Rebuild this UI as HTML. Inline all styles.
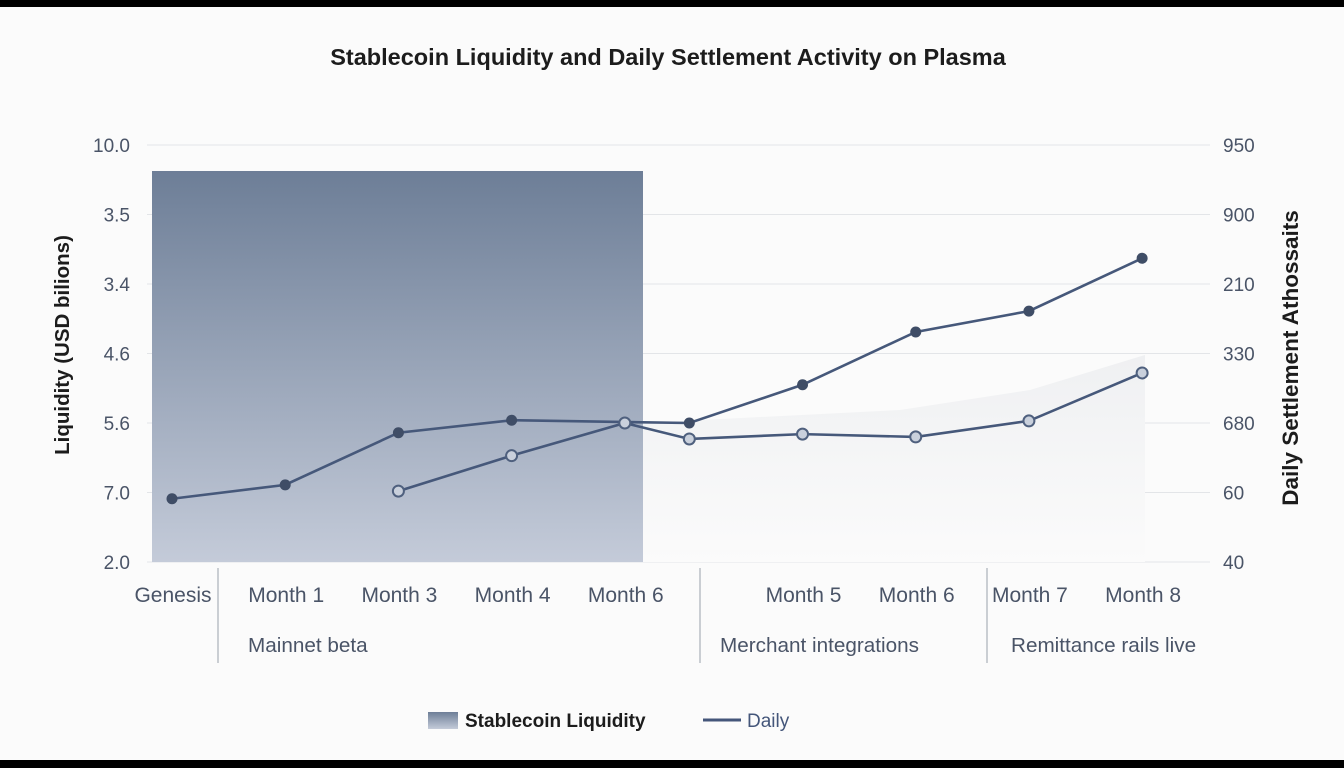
<!DOCTYPE html>
<html><head><meta charset="utf-8"><style>
body{margin:0;width:1344px;height:768px;overflow:hidden;background:#fbfbfb;font-family:"Liberation Sans",sans-serif;}
</style></head><body>
<svg width="1344" height="768" style="display:block">
<defs>
<linearGradient id="gShade" x1="0" y1="0" x2="0" y2="1"><stop offset="0" stop-color="#6d7e97"/><stop offset="1" stop-color="#c4cbd9"/></linearGradient>
<linearGradient id="gFaint" x1="0" y1="0" x2="0" y2="1"><stop offset="0" stop-color="#eff0f2"/><stop offset="1" stop-color="#fbfbfb"/></linearGradient>
</defs>
<rect x="0" y="0" width="1344" height="7" fill="#000"/>
<rect x="0" y="760" width="1344" height="8" fill="#000"/>
<text x="668" y="65" text-anchor="middle" font-size="23.5" font-weight="bold" fill="#1c1c1c">Stablecoin Liquidity and Daily Settlement Activity on Plasma</text>
<g id="grid"></g>
<polygon points="643,562 643,423 900,410 1030,390 1145,355 1145,562" fill="url(#gFaint)"/>
<rect x="152" y="171" width="491" height="391" fill="url(#gShade)"/>
<g id="marks"></g>
<text transform="translate(69,345) rotate(-90)" text-anchor="middle" font-size="20.5" font-weight="bold" fill="#1c1c1c">Liquidity (USD bilions)</text>
<text transform="translate(1298,358) rotate(-90)" text-anchor="middle" font-size="22.5" font-weight="bold" fill="#1c1c1c">Daily Settlement Athossaits</text>
<line x1="218" y1="568" x2="218" y2="663" stroke="#9aa1ab"/>
<line x1="700" y1="568" x2="700" y2="663" stroke="#9aa1ab"/>
<line x1="987" y1="568" x2="987" y2="663" stroke="#9aa1ab"/>
<text x="248" y="652" font-size="20.7" fill="#4a5467">Mainnet beta</text>
<text x="720" y="652" font-size="20.7" fill="#4a5467">Merchant integrations</text>
<text x="1011" y="652" font-size="20.7" fill="#4a5467">Remittance rails live</text>
<rect x="428" y="712" width="30" height="17" fill="url(#gShade)"/>
<text x="465" y="727" font-size="19" font-weight="bold" fill="#1c1c1c">Stablecoin Liquidity</text>
<line x1="703" y1="720" x2="741" y2="720" stroke="#44567a" stroke-width="3"/>
<text x="747" y="727" font-size="19" fill="#44567a">Daily</text>
</svg>
<script>
const categories=["Genesis","Month 1","Month 3","Month 4","Month 6","","Month 5","Month 6","Month 7","Month 8"];
const xIndex=[0,1,2,3,4,4.57,5.57,6.57,7.57,8.57];
const leftTicks=["10.0","3.5","3.4","4.6","5.6","7.0","2.0"];
const rightTicks=["950","900","210","330","680","60","40"];
const darkSeries=[0.91,1.11,1.86,2.04,null,2.0,2.55,3.31,3.61,4.37];
const lightSeries=[null,null,1.02,1.53,2.0,1.77,1.84,1.8,2.03,2.72];
const NS="http://www.w3.org/2000/svg";
const xS=i=>172+i*113.2;
const yS=v=>562-v*69.5;
function mk(t,a,p){const e=document.createElementNS(NS,t);for(const k in a)e.setAttribute(k,a[k]);p.appendChild(e);return e;}
const grid=document.getElementById('grid'),marks=document.getElementById('marks');
leftTicks.forEach((t,i)=>{
  const y=yS(6-i);
  const l=mk('line',{x1:147,x2:1210,y1:y,y2:y,stroke:'#e3e5e8'},grid);
  
  
  const a=mk('text',{x:130,y:y+7,'text-anchor':'end','font-size':19,fill:'#4a5467'},grid);a.textContent=t;
  
  
  const b=mk('text',{x:1223,y:y+7,'font-size':19,fill:'#4a5467'},grid);b.textContent=rightTicks[i];
  
  
});
categories.forEach((c,i)=>{if(!c)return;
  const t=mk('text',{x:xS(xIndex[i])+1,y:602,'text-anchor':'middle','font-size':21,fill:'#4a5467'},grid);t.textContent=c;
  
  
});
function line(vals,name){
  const pts=[];vals.forEach((v,i)=>{if(v!=null)pts.push(xS(xIndex[i])+','+yS(v));});
  const p=mk('polyline',{points:pts.join(' '),fill:'none',stroke:'#46587a','stroke-width':2.6},marks);
  
  
}
line(darkSeries,'daily-line-dark');
line(lightSeries,'daily-line-light');
darkSeries.forEach((v,i)=>{if(v==null)return;
  const c=mk('circle',{cx:xS(xIndex[i]),cy:yS(v),r:5.5,fill:'#3f4d66'},marks);
  
  
});
lightSeries.forEach((v,i)=>{if(v==null)return;
  const c=mk('circle',{cx:xS(xIndex[i]),cy:yS(v),r:5.5,fill:'#c9d0dc',stroke:'#4f607e','stroke-width':2},marks);
  
  
});
</script>
</body></html>
